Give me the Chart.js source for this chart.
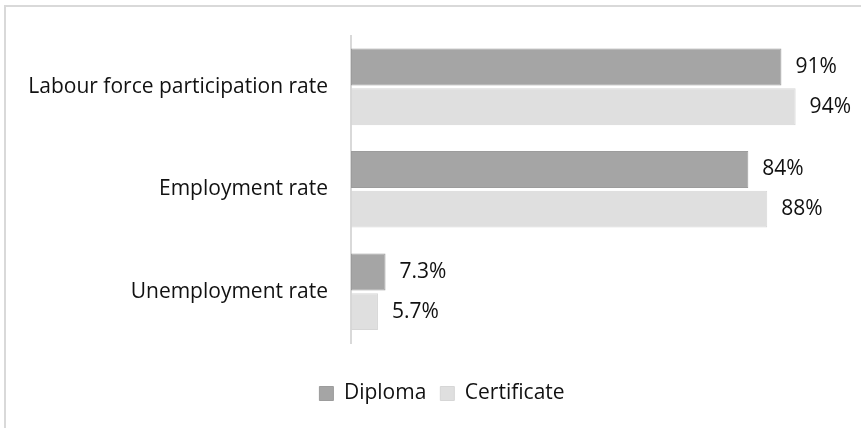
<!DOCTYPE html>
<html>
<head>
<meta charset="utf-8">
<script src="https://cdn.jsdelivr.net/npm/chart.js@4"></script>
<style>
  body { margin: 0; background: #fff; }
  #wrap { position: relative; width: 861px; height: 428px; overflow: hidden; }
  #frame { position: absolute; left: 4px; top: 5px; width: 900px; height: 500px; border: 2px solid #d9d9d9; }
  #chart { position: absolute; left: 0; top: 0; }
</style>
</head>
<body>
<div id="wrap">
  <div id="frame"></div>
  <canvas id="chart" width="861" height="428"></canvas>
</div>
<script>
// categories and series
const categories = ['Labour force participation rate', 'Employment rate', 'Unemployment rate'];
const diplomaValues = [91, 84, 7.3];
const certificateValues = [94, 88, 5.7];
const diplomaLabels = ['91%', '84%', '7.3%'];
const certificateLabels = ['94%', '88%', '5.7%'];

const FONT = { family: "'Open Sans', sans-serif", size: 21 };

// draws the value text just right of each bar
const valueLabels = {
    id: 'valueLabels',
    afterLayout(chart) {
        // the legend sits a bit right of centre in the reference
        if (chart.legend) { chart.legend.left += 30; chart.legend.right += 30; }
    },
    afterDatasetsDraw(chart) {
        const ctx = chart.ctx;
        const texts = [diplomaLabels, certificateLabels];
        ctx.save();
        ctx.font = `${FONT.size}px ${FONT.family}`;
        ctx.fillStyle = '#111111';
        ctx.textBaseline = 'middle';
        ctx.textAlign = 'left';
        chart.data.datasets.forEach((ds, i) => {
            chart.getDatasetMeta(i).data.forEach((bar, j) => {
                ctx.fillText(texts[i][j], bar.x + 14, bar.y);
            });
        });
        ctx.restore();
    }
};

function initChart() {
    const ctx = document.getElementById('chart');
    if (!ctx) { console.error('Canvas not found'); return; }

    const chartData = {
        labels: categories,
        datasets: [
            { label: 'Diploma', data: diplomaValues, backgroundColor: '#a5a5a5', borderColor: '#9c9c9c', borderWidth: 1, borderSkipped: false },
            { label: 'Certificate', data: certificateValues, backgroundColor: '#dfdfdf', borderColor: '#d6d6d6', borderWidth: 1, borderSkipped: false }
        ]
    };
    const chartOptions = {
        indexAxis: 'y',
        responsive: false, animation: false,
        datasets: { bar: { categoryPercentage: 0.775, barPercentage: 0.93 } },
        layout: { padding: { top: 31.5, right: 37, bottom: 14, left: 0 } },
        scales: {
            x: {
                min: 0, max: 100,
                ticks: { display: false }, grid: { display: false, drawTicks: false }, border: { display: false },
                afterFit(scale) { scale.height = 26; }
            },
            y: {
                ticks: { color: '#111111', font: FONT, padding: 23 },
                grid: { display: false, drawTicks: false },
                border: { display: true, color: '#d9d9d9', width: 2 },
                afterFit(scale) { scale.width = 351; }
            }
        },
        plugins: {
            legend: {
                position: 'bottom',
                labels: { color: '#111111', font: FONT, boxWidth: 14, boxHeight: 14, padding: 14 }
            },
            tooltip: { enabled: false },
            title: { display: false }
        }
    };

    try { new Chart(ctx, { type: 'bar', data: chartData, options: chartOptions, plugins: [valueLabels] }); }
    catch (error) { console.error('Error initializing chart:', error); }
}
initChart();
</script>
</body>
</html>
